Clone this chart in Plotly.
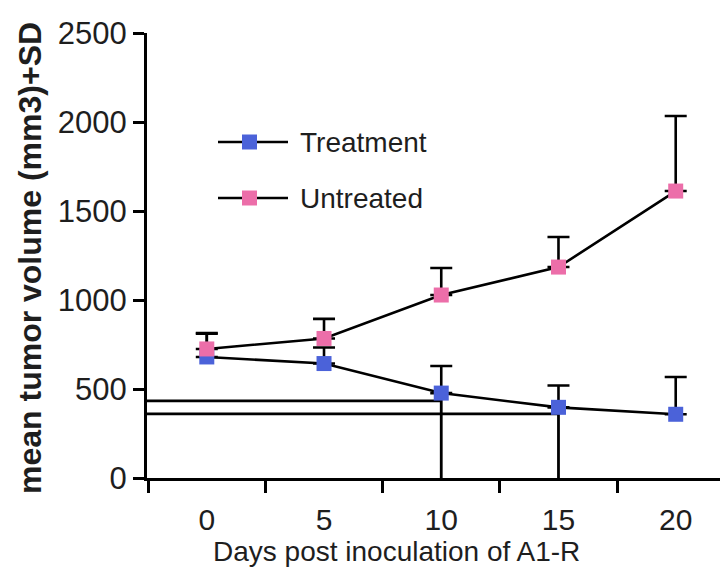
import plotly.graph_objects as go

# ---- data ----
days = [0, 5, 10, 15, 20]
treatment_mean = [680, 643, 477, 397, 358]
treatment_sd = [130, 90, 152, 123, 209]
untreated_mean = [725, 784, 1028, 1185, 1612]
untreated_sd = [90, 110, 152, 169, 422]

# artefact lines visible in the original figure
low_whisker_days = [10, 15]                 # treatment whiskers drawn down to 0
hline_levels = [433, 360]                   # horizontal lines from the y axis
hline_ends = [10, 15]

x_tick_vals = [0, 5, 10, 15, 20]
x_minor_vals = [-2.5, 2.5, 7.5, 12.5, 17.5]
y_tick_vals = [0, 500, 1000, 1500, 2000, 2500]

BLUE = "#4b62d9"
PINK = "#ec6ea9"
FONT = "Liberation Sans, Arial, sans-serif"
TXT = "#1e1e1e"

# the page body has an 8px margin; compensate so the window matches the reference
OFF = 8
W, H = 728 - OFF, 578 - OFF
L, R, T, B = 147 - OFF, 0, 33 - OFF, 100
XR = [-2.55, 22.23]

fig = go.Figure()

# error bars (upper only) drawn first, beneath markers
for mean, sd in ((treatment_mean, treatment_sd), (untreated_mean, untreated_sd)):
    fig.add_trace(go.Scatter(
        x=days, y=mean, mode="markers",
        marker=dict(size=1, opacity=0),
        error_y=dict(type="data", symmetric=False, array=sd,
                     arrayminus=[0] * len(sd), color="black",
                     thickness=2.6, width=11),
        showlegend=False, hoverinfo="skip"))

# artefact whiskers down to zero and horizontal lines
wx, wy = [], []
for d in low_whisker_days:
    i = days.index(d)
    wx += [d, d, None]
    wy += [0, treatment_mean[i], None]
for lvl, end in zip(hline_levels, hline_ends):
    wx += [XR[0], end, None]
    wy += [lvl, lvl, None]
fig.add_trace(go.Scatter(x=wx, y=wy, mode="lines",
                         line=dict(color="black", width=2.8),
                         showlegend=False, hoverinfo="skip"))

fig.add_trace(go.Scatter(
    x=days, y=treatment_mean, mode="lines+markers", name="Treatment",
    line=dict(color="black", width=2.6),
    marker=dict(symbol="square", size=15, color=BLUE),
    showlegend=False))
fig.add_trace(go.Scatter(
    x=days, y=untreated_mean, mode="lines+markers", name="Untreated",
    line=dict(color="black", width=2.6),
    marker=dict(symbol="square", size=15, color=PINK),
    showlegend=False))

PW, PH = W - L - R, H - T - B


def px(xp):
    return (xp - OFF - L) / PW


def py(yp):
    return (H - B - (yp - OFF)) / PH


# manual legend
shapes = []
annotations = []
for label, color, yc in (("Treatment", BLUE, 142), ("Untreated", PINK, 198)):
    shapes.append(dict(type="line", xref="paper", yref="paper",
                       x0=px(218), x1=px(288), y0=py(yc), y1=py(yc),
                       line=dict(color="black", width=2.6)))
    shapes.append(dict(type="rect", xref="paper", yref="paper",
                       x0=px(242), x1=px(257), y0=py(yc - 7.5), y1=py(yc + 7.5),
                       fillcolor=color, line=dict(width=0)))
    annotations.append(dict(text=label, xref="paper", yref="paper",
                            x=px(298), y=py(yc), xanchor="left", yanchor="middle",
                            showarrow=False, font=dict(family=FONT, size=28, color=TXT)))

annotations.append(dict(text="Days post inoculation of A1-R", xref="paper", yref="paper",
                        x=px(396), y=py(551), xanchor="center", yanchor="middle",
                        showarrow=False, font=dict(family=FONT, size=28, color=TXT)))
annotations.append(dict(text="<b>mean tumor volume (mm3)+SD</b>", xref="paper", yref="paper",
                        x=px(30), y=py(258), xanchor="center", yanchor="middle",
                        textangle=-90, showarrow=False,
                        font=dict(family=FONT, size=32, color=TXT)))

fig.update_layout(
    width=W, height=H,
    margin=dict(l=L, r=R, t=T, b=B),
    paper_bgcolor="white", plot_bgcolor="white",
    shapes=shapes, annotations=annotations,
    showlegend=False,
    xaxis=dict(range=XR, tickmode="array", tickvals=x_tick_vals,
               ticks="outside", ticklen=13, tickwidth=1, tickcolor="rgba(0,0,0,0)",
               tickfont=dict(family=FONT, size=30, color=TXT),
               showline=True, linewidth=3, linecolor="black",
               showgrid=False, zeroline=False,
               minor=dict(tickmode="array", tickvals=x_minor_vals, ticks="outside",
                          ticklen=12, tickwidth=3, tickcolor="black", showgrid=False)),
    yaxis=dict(range=[0, 2500], tickmode="array", tickvals=y_tick_vals,
               ticks="outside", ticklen=11, tickwidth=3, tickcolor="black",
               tickfont=dict(family=FONT, size=31, color=TXT),
               showline=True, linewidth=3, linecolor="black",
               showgrid=False, zeroline=False),
)

fig.write_html("out.html")
